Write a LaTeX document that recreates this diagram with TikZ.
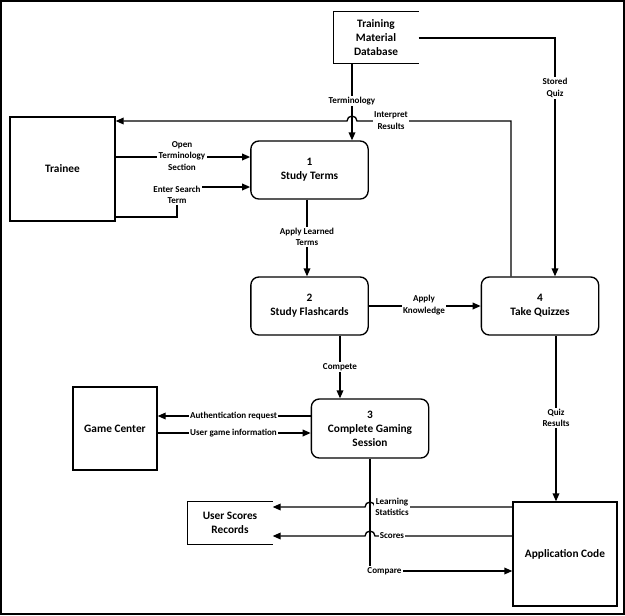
\documentclass[tikz,border=0pt]{standalone}
\usepackage{fontspec}
\setmainfont{Carlito}
\usetikzlibrary{arrows.meta}

\begin{document}
\begin{tikzpicture}[x=0.75pt, y=-0.75pt]
  \tikzset{
    box/.style={
      draw, line width=1pt, inner sep=0pt, align=center,
      font=\fontsize{8.5}{10.5}\selectfont\bfseries
    },
    pnode/.style={
      box, rounded corners=6pt, minimum width=88pt, minimum height=43.5pt
    },
    snode/.style={
      box, draw=none, minimum width=63pt
    },
    flow/.style={
      line width=1pt, -{Triangle[length=6pt, width=5pt]}
    },
    flabel/.style={
      fill=white, inner sep=1pt, align=center,
      font=\fontsize{6.8}{8.6}\selectfont\bfseries
    }
  }

  \useasboundingbox (0,0) rectangle (625,615);
  \draw [line width=1.5pt] (1,1) rectangle (624,614);

  % entities
  \node [box, minimum width=78.75pt, minimum height=78pt] (trainee) at (62.5,169) {Trainee};
  \node [box, minimum width=63pt, minimum height=62.25pt] (game) at (115,428.5) {Game Center};
  \node [box, minimum width=78pt, minimum height=78pt] (app) at (565,554) {Application Code};

  % data stores
  \node [snode, minimum height=38.25pt] (db) at (376,37.5) {Training\\Material\\Database};
  \node [snode, minimum height=31.5pt] (scores) at (230,523) {User Scores\\Records};
  \draw [line width=1pt] (db.north east) -- (db.north west) -- (db.south west) -- (db.south east);
  \draw [line width=1pt] (scores.north east) -- (scores.north west) -- (scores.south west) -- (scores.south east);

  % processes
  \node [pnode] (terms) at (309.5,170) {1\\Study Terms};
  \node [pnode] (cards) at (309.5,306) {2\\Study Flashcards};
  \node [pnode] (quiz) at (540,306) {4\\Take Quizzes};
  \node [pnode, minimum height=44.25pt] (session) at (370,428.5) {3\\Complete Gaming\\Session};

  % bend and crossing points
  \coordinate (term) at (352,121);
  \coordinate (interp) at (511,121);
  \coordinate (stored) at (555,38);
  \coordinate (search) at (177,187);
  \coordinate (comp) at (370,571);
  \coordinate (hopL) at (370,507);
  \coordinate (hopS) at (370,536);

  \draw [flow] (db.south -| term) -- (terms.north -| term);
  \draw [flow] (quiz.north -| interp) -- (interp)
    -- ([xshift=3.75pt]term) arc [start angle=0, end angle=180, radius=3.75pt]
    -- (trainee.east |- interp);
  \draw [flow] (db.east |- stored) -- (stored) -- (quiz.north -| stored);
  \draw [flow] (trainee.east |- 0,157) -- (terms.west |- 0,157);
  \draw [flow] (trainee.east |- 0,217) -| (search) -- (terms.west |- search);
  \draw [flow] (terms.south -| 307,0) -- (cards.north -| 307,0);
  \draw [flow] (cards.east) -- (quiz.west);
  \draw [flow] (cards.south -| 340,0) -- (session.north -| 340,0);
  \draw [flow] (session.west |- 0,416) -- (game.east |- 0,416);
  \draw [flow] (game.east |- 0,433) -- (session.west |- 0,433);
  \draw [flow] (quiz.south -| 556,0) -- (app.north -| 556,0);
  \draw [flow] (session.south -| comp) -- (comp) -- (app.west |- comp);
  \draw [flow] (app.west |- hopL) -- ([xshift=3.75pt]hopL)
    arc [start angle=0, end angle=180, radius=3.75pt] -- (scores.east |- hopL);
  \draw [flow] (app.west |- hopS) -- ([xshift=3.75pt]hopS)
    arc [start angle=0, end angle=180, radius=3.75pt] -- (scores.east |- hopS);

  % labels
  \node [flabel] (lterm) at (352,101) {Terminology};
  \node [flabel] (linterp) at (391,120.5) {Interpret\\Results};
  \node [flabel] (lstored) at (555,88) {Stored\\Quiz};
  \node [flabel] (lopen) at (182,156) {Open\\Terminology\\Section};
  \node [flabel] (lsearch) at (177,195) {Enter Search\\Term};
  \node [flabel] (lapply) at (307,237) {Apply Learned\\Terms};
  \node [flabel] (lknow) at (424,305) {Apply\\Knowledge};
  \node [flabel] (lcomp) at (340,367) {Compete};
  \node [flabel] (lauth) at (233.5,416) {Authentication request};
  \node [flabel] (luser) at (233.5,433) {User game information};
  \node [flabel] (lquiz) at (556,418) {Quiz\\Results};
  \node [flabel] (lcompare) at (384.5,571) {Compare};
  \node [flabel] (lstats) at (392,507) {Learning\\Statistics};
  \node [flabel] (lscores) at (392,536) {Scores};
\end{tikzpicture}
\end{document}
